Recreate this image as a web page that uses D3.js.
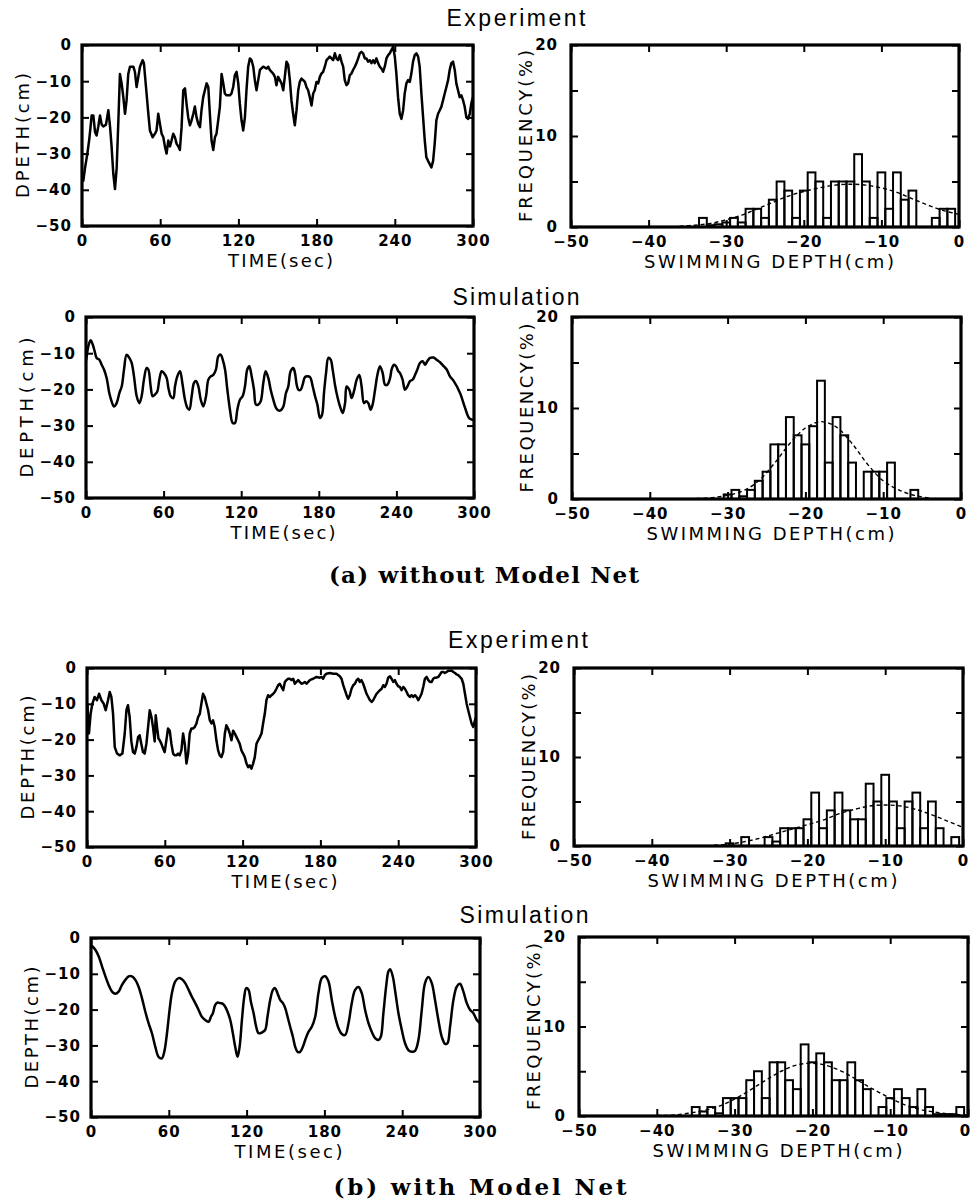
<!DOCTYPE html>
<html lang="en">
<head>
<meta charset="UTF-8">
<title>Swimming depth - experiment vs simulation</title>
<style>
  body { margin: 0; background: #fff; }
  svg { display: block; background: #fff; }
  .tick text { font-family: "DejaVu Sans", sans-serif; font-weight: bold; font-size: 15px; letter-spacing: 1px; fill: #000; }
  .tick line { stroke: #000; stroke-width: 2; }
  .lab { font-family: "DejaVu Sans", sans-serif; font-size: 18px; fill: #000; }
  .ttl { font-family: "Liberation Sans", Arial, sans-serif; font-size: 23px; fill: #000; }
  .cap { font-family: "DejaVu Serif", serif; font-weight: bold; font-size: 23px; fill: #000; }
</style>
</head>
<body>
<script src="https://cdnjs.cloudflare.com/ajax/libs/d3/7.8.5/d3.min.js"></script>
<script>

// ticks
let timeTicks = [0, 60, 120, 180, 240, 300];
let depthTicks = [0, -10, -20, -30, -40, -50];
let swimTicks = [-50, -40, -30, -20, -10, 0];
let freqTicks = [0, 5, 10, 15, 20];

// depth traces [time(sec), depth(cm)]
let expA = [
[0,-36],[1,-37.5],[2.3,-34],[4.1,-30],[5.6,-26],[6.6,-22.5],[7.4,-19.5],[8.7,-19.5],[10,-24],[11.2,-25],[12.5,-22.5],[13.8,-19.5],[15.1,-22],[16.4,-22.5],[18.4,-22],[20.2,-18],[21.5,-22.5],[22.7,-28],[24,-35.5],[25.3,-39.8],[26.6,-34],[27.9,-21],[29.1,-8],[30.4,-10.6],[31.7,-14.4],[33,-19],[34.2,-15.3],[35.5,-8],[36.8,-6],[39.4,-6],[40.6,-7.4],[41.9,-11.6],[43.2,-8.8],[44.5,-6],[46.5,-4.2],[47.5,-5],[49.1,-11.6],[50.9,-19],[52.1,-23.6],[54.2,-25.5],[56,-24.5],[57.2,-23.6],[58.5,-19],[59.8,-21.8],[61.1,-24.5],[62.4,-25.5],[63.6,-28],[64.9,-30],[66.2,-26.4],[67.5,-28],[68.7,-26.4],[70,-24.5],[71.3,-25.5],[72.6,-27.3],[73.9,-28],[75.1,-29],[76.4,-22.7],[77.7,-12.5],[79,-12],[80.2,-16.2],[81.5,-20],[82.8,-22.2],[84.1,-20.8],[85.4,-19],[86.6,-17],[87.9,-20],[89.2,-21.8],[90.5,-22.7],[91.7,-18],[93,-14.4],[94.3,-12.5],[95.6,-10.6],[96.9,-11.6],[98.1,-19],[99.4,-26.4],[100.7,-29],[102,-25.5],[103.2,-24.5],[104.5,-20.8],[105.8,-17],[107.1,-8],[108.4,-10.6],[109.6,-13.4],[110.9,-13.9],[113.5,-13.9],[114.7,-13.4],[116,-11.6],[117.3,-8.3],[118.6,-7.4],[119.9,-10.6],[121.1,-16.2],[122.4,-20.8],[123.7,-23.6],[125,-19.9],[126.2,-12.5],[127.5,-6],[128.8,-3.7],[130.1,-4.2],[131.4,-6],[132.6,-9.7],[133.9,-12.5],[135.2,-9.7],[136.5,-6.9],[139,-6],[141.6,-6.5],[142.9,-6],[144.1,-6.9],[145.4,-7.4],[146.7,-7.9],[148,-8.8],[149.2,-11.1],[150.5,-8.8],[151.8,-9.7],[153.1,-10.6],[154.4,-12.5],[155.6,-8.8],[156.9,-4.6],[158.2,-5.5],[159.5,-9.7],[160.7,-15.3],[162,-19],[163.3,-22.2],[164.6,-18],[165.9,-12.5],[167.1,-10.2],[168.4,-9.3],[169.7,-9.7],[171,-10.2],[172.2,-11.6],[173.5,-12.5],[174.8,-14.4],[176.1,-16.7],[177.4,-13.4],[178.6,-12.5],[179.9,-10.2],[181.2,-10.6],[182.5,-8.8],[183.7,-7.9],[185,-7.4],[186.3,-6],[187.6,-4.2],[188.9,-3.7],[190.1,-3.2],[192.7,-4.2],[194,-2.3],[195.2,-3.7],[196.5,-4.2],[197.8,-2.8],[199.1,-4.6],[200.4,-6],[201.6,-9.7],[202.9,-11.1],[204.2,-10.6],[205.5,-8.3],[206.7,-7.9],[208,-6.9],[209.3,-6],[210.6,-5],[211.9,-3.7],[213.1,-2.3],[214.4,-1.9],[215.7,-2.3],[217,-3.7],[218.2,-3.7],[219.5,-4.6],[220.8,-4.2],[222.1,-5],[223.4,-4.2],[224.6,-5],[225.9,-3.7],[227.2,-5],[228.5,-6],[229.7,-6.5],[231,-7.4],[232.3,-6],[233.6,-3.7],[234.9,-2.8],[236.1,-2.3],[237.4,-1.4],[238.7,-0.5],[240,-3.2],[241.2,-7.9],[242.5,-14.4],[243.8,-19],[245.1,-20.4],[246.4,-18],[247.6,-13.4],[248.9,-10.6],[250.2,-9.7],[251.5,-10.2],[252.7,-7.9],[254,-4.6],[255.3,-2.8],[256.6,-2.3],[257.9,-3.2],[259.1,-6],[260.4,-13.4],[261.7,-19.9],[263,-26.4],[264.2,-31],[265.5,-32],[266.8,-32.9],[268.1,-33.8],[269.4,-32],[270.6,-27.3],[271.9,-20.8],[273.2,-19],[274.5,-18],[275.7,-17.1],[277,-15.3],[278.3,-13.4],[279.6,-11.6],[280.9,-9.7],[282.1,-6.9],[283.4,-5],[284.7,-4.6],[286,-6.9],[287.2,-10.6],[288.5,-12.5],[289.8,-14.4],[291.1,-13.9],[292.4,-15.3],[293.6,-17],[294.9,-20],[296.2,-20.4],[297.5,-19],[298.8,-16],[300,-14.4]
];

let simA = [
[0,-12],[0.5,-10.9],[1.8,-8.1],[3.6,-6.4],[5.2,-7.6],[7,-9.9],[8.2,-11.3],[10.3,-11.8],[12.1,-13.2],[13.9,-14.5],[16,-16.9],[18,-21],[19.8,-23.3],[21.6,-24.7],[23.7,-23.8],[25.8,-21],[27.6,-19.2],[29.4,-14.5],[31.4,-10.4],[33.5,-11.3],[35.3,-12.7],[37.1,-16.4],[39.2,-21.9],[41.2,-23.8],[43,-21.9],[44.8,-17.3],[46.9,-14.1],[48.2,-14.5],[50,-19.2],[51.5,-21.9],[53.4,-21.4],[55.2,-20.5],[56.7,-17.3],[58.5,-15],[60.3,-15.5],[62.4,-16.9],[63.7,-19.6],[65.5,-21.9],[67.5,-22.4],[68.8,-19.2],[70.6,-16.4],[72.7,-15],[74.7,-18.7],[76.5,-22.8],[78.4,-25.1],[79.9,-25.6],[81.7,-21.9],[83.5,-18.2],[85,-17.7],[86.9,-19.2],[88.7,-22.8],[90.7,-24.7],[92.8,-21.9],[94.6,-17.3],[96.4,-16.4],[98.5,-16],[100.5,-14.5],[102.3,-10.9],[104.1,-10.4],[105.7,-11.8],[107.5,-14.5],[109.3,-20.1],[111.3,-25.6],[113.4,-29.3],[115.2,-29.3],[117,-25.6],[119.1,-22.8],[121.1,-21.9],[122.9,-19.2],[124.7,-14.5],[126.3,-13.6],[128.1,-16.4],[129.9,-20.1],[131.4,-24.2],[133.2,-24.2],[135.1,-23.3],[137.1,-18.2],[138.9,-15],[141,-16.9],[142.8,-20.1],[144.8,-22.8],[146.9,-25.1],[148.7,-25.8],[150.5,-25.8],[152.6,-24.7],[154.6,-21],[156.4,-19.2],[158.2,-15],[160.3,-14.1],[161.6,-15.5],[162.9,-18.7],[164.2,-20.1],[166,-20.1],[167.5,-18.7],[169.3,-16.6],[171.1,-16.4],[173.2,-16.6],[175.3,-19.2],[177.1,-21.9],[178.9,-24.2],[180.9,-27.9],[182.5,-27],[184,-21],[185.6,-15.5],[187.4,-11.3],[189.2,-11.8],[190.7,-14.5],[192.5,-18.7],[194.3,-21.9],[196.4,-24.7],[198.5,-26.5],[200.3,-23.8],[201.5,-19.2],[203.6,-20.1],[205.4,-22.4],[207.2,-20.5],[209.3,-17.3],[211.3,-16],[213.1,-19.2],[214.9,-23.8],[216.5,-23.3],[218.3,-23.8],[220.1,-25.6],[221.6,-24.2],[223.5,-20.1],[225.3,-16],[227.3,-13.6],[229.4,-15.5],[231.2,-18.7],[233,-18.7],[235.1,-16.9],[236.3,-14.5],[238.1,-13.2],[239.7,-13.6],[241.5,-15],[242.8,-15.5],[244.8,-17.3],[246.6,-20.1],[248.5,-19.2],[250.5,-17.7],[252.6,-17.3],[254.4,-16],[256.2,-14.5],[258.2,-12.7],[260.3,-12.2],[262.1,-13.2],[263.9,-12.2],[266,-11.3],[268.6,-11.2],[271.1,-11.8],[273.7,-12.5],[276.3,-13.5],[278.9,-14.5],[281.4,-16.4],[284,-17.5],[289.2,-21],[293,-25],[296.4,-28],[300,-28.5]
];

let expB = [
[0.3,-10],[1.5,-18.3],[2.8,-12.8],[4.1,-10],[5.9,-8.1],[7.7,-9],[9.3,-7.2],[11.1,-9],[12.9,-10],[14.4,-11.8],[16.2,-9],[17.5,-6.7],[18.8,-8.1],[20.1,-12.8],[21.4,-22.1],[23.2,-23.9],[25.2,-24.4],[27.3,-23.9],[29.1,-18.3],[30.4,-11.8],[31.6,-10.4],[32.9,-13.7],[34.2,-20.5],[35.5,-23.5],[36.8,-23.9],[38.1,-22.1],[39.4,-19.3],[40.6,-18.8],[41.9,-21.2],[43.2,-23.5],[44.5,-23.9],[45.8,-21.2],[47.1,-16.5],[48.4,-11.8],[49.7,-13.7],[50.9,-16.5],[52.2,-20.5],[53,-13.2],[54,-16.5],[55.1,-19.7],[56.1,-20.2],[57.4,-21.2],[58.7,-22.5],[59.9,-23.5],[61.2,-20.2],[62.5,-16.9],[63.8,-17.5],[65.1,-21.2],[66.4,-23.9],[67.7,-24.4],[68.9,-24.4],[70.2,-23.9],[71.5,-24.4],[72.8,-23],[74.1,-18.3],[75.4,-21.2],[76.7,-26.7],[78,-23.9],[79.2,-18.3],[80.5,-16.9],[81.8,-16.9],[83.1,-16.5],[84.4,-15.5],[85.7,-13.7],[87,-12.8],[88.2,-10],[89.5,-7.2],[90.8,-8.1],[92.1,-10],[93.4,-11.8],[94.7,-14.6],[96,-15.5],[97.2,-14.6],[98.5,-16.5],[99.8,-20.2],[101.1,-23],[102.4,-24.4],[103.7,-24.9],[105,-23.5],[106.3,-18.3],[107.5,-16],[108.8,-16.9],[110.1,-18.3],[111.4,-20.2],[112.7,-17.5],[114,-18.3],[115.3,-19.3],[116.5,-20.2],[117.8,-21.2],[119.1,-23],[120.4,-23.9],[121.7,-24.9],[123,-26.7],[124.3,-27.7],[125.5,-27.2],[126.8,-28.1],[128.1,-26.7],[129.4,-24.9],[130.7,-21.2],[132,-20.2],[133.3,-19.3],[134.6,-18.3],[135.8,-15.5],[137.1,-12.8],[138.4,-9],[139.7,-7.6],[141,-8.1],[142.3,-7.6],[143.6,-7.2],[144.8,-6.7],[146.1,-5.8],[147.4,-4.8],[148.7,-4.4],[150,-5.3],[151.3,-6.2],[152.6,-3.9],[153.8,-3.4],[155.1,-3],[156.4,-3],[157.7,-3.4],[159,-3],[160.3,-4.4],[161.6,-3.9],[162.9,-3.4],[164.1,-3.9],[165.4,-4.4],[166.7,-4.2],[168,-3.9],[169.3,-4.4],[170.6,-3.9],[171.9,-3.4],[173.1,-3.2],[174.4,-3],[177,-2.5],[179.6,-2.7],[180.9,-2.5],[182.1,-3],[183.4,-2],[184.7,-1.6],[187.3,-1.4],[189.9,-1.6],[192.4,-1.6],[195,-2.3],[196.3,-3],[197.6,-4.8],[198.9,-6.2],[200.2,-7.6],[201.4,-8.6],[202.7,-7.6],[204,-5.8],[205.3,-4.8],[206.6,-4.4],[207.9,-3.4],[209.2,-3],[210.4,-3.9],[211.7,-3.4],[213,-4.4],[214.3,-5.8],[215.6,-7.2],[216.9,-8.1],[218.2,-9],[219.5,-9.5],[220.7,-9],[222,-8.1],[223.3,-7.2],[224.6,-6.7],[225.9,-6.2],[227.2,-5.8],[228.5,-4.8],[229.7,-5.3],[231,-4.4],[232.3,-2.7],[233.6,-2.3],[234.9,-3],[236.2,-3.9],[237.5,-3.4],[238.7,-4.4],[240,-5.1],[241.3,-5.3],[242.6,-6.2],[243.9,-5.3],[245.2,-5.8],[246.5,-6.7],[247.7,-7.6],[249,-8.1],[250.3,-7.6],[251.6,-8.1],[252.9,-7.6],[254.2,-8.1],[255.5,-9],[256.8,-8.1],[258,-7.2],[259.3,-5.3],[260.6,-3],[261.9,-2.5],[263.2,-3.4],[264.5,-3.9],[265.8,-3.9],[267,-3],[268.3,-2.7],[269.6,-2.7],[270.9,-2.5],[272.2,-1.8],[273.5,-1.1],[274.8,-1.1],[276,-1.4],[277.3,-1.1],[278.6,-0.8],[279.9,-0.8],[281.2,-0.7],[282.5,-1.1],[283.8,-1.4],[285,-1.8],[286.3,-2],[287.6,-2.5],[288.9,-3],[290.2,-4.4],[291.5,-7.2],[292.8,-10],[294,-11.8],[295.3,-13.7],[296.6,-15.5],[297.9,-16.5],[299.2,-14.6],[300,-13.7]
];

let simB = [
[0,-2.5],[0.8,-2.3],[3.3,-3.3],[5.9,-5.1],[8.5,-7.9],[11.1,-10.7],[13.6,-13.1],[16.2,-15],[18.8,-15.6],[21.3,-15],[23.9,-13.1],[26.5,-11.7],[29,-10.7],[31.6,-10.7],[34.2,-11.7],[36.7,-13.6],[39.3,-16.8],[41.9,-20.6],[44.4,-23.8],[47,-26.6],[49.6,-30.4],[52.1,-33.2],[54.7,-33.6],[56.5,-31.8],[58.6,-26.6],[60.6,-20.1],[62.4,-15.4],[65,-12.1],[67.6,-11.2],[70.1,-11.5],[72.7,-12.6],[75.3,-14.5],[77.8,-16.4],[80.4,-18.2],[83,-20.1],[85.5,-22],[88.1,-22.9],[90.7,-23.4],[92.5,-22],[94,-21],[95.8,-18.7],[97.6,-18],[99.7,-18.2],[101.7,-18.4],[103.5,-19.2],[105.3,-20.6],[107.4,-22.9],[109.4,-26.6],[111.2,-30.4],[113,-33.2],[114.6,-30.4],[116.4,-22.9],[118.2,-16.4],[119.7,-14],[121.5,-14.5],[123.3,-17.8],[125.4,-21],[127.4,-24.8],[129.2,-26.6],[131.8,-26.4],[134.3,-25.7],[136.1,-22],[138.2,-17.3],[140.3,-14.5],[142,-14],[143.8,-15.4],[145.9,-17.3],[148,-18.2],[149.8,-19.6],[151.6,-22],[153.6,-24.8],[155.7,-27.6],[157.5,-30.4],[159.3,-31.8],[161.3,-31.8],[163.4,-30.4],[165.2,-28.5],[167.7,-26.2],[170.3,-24.8],[172.9,-22],[175.4,-15.4],[178,-11.2],[180.6,-10.7],[183.1,-12.1],[185.7,-17.3],[188.3,-22],[190.9,-25.2],[193.4,-26.8],[196,-27.1],[198.6,-23.8],[201.1,-18.2],[203.7,-14.5],[206.3,-13.7],[208.8,-15.4],[211.4,-20.1],[214,-23.8],[216.5,-26.2],[219.1,-28],[221.7,-28.5],[223.5,-27.6],[225.5,-21],[227.6,-13.6],[229.4,-9.3],[230.7,-8.7],[232.7,-10.7],[234.8,-15.4],[237.1,-21],[239.7,-25.7],[242.2,-29.4],[244.8,-31.3],[247.4,-31.8],[249.9,-31.5],[252.5,-28.5],[255.1,-20.1],[257.6,-12.6],[260.2,-10.9],[262.8,-12.6],[265.3,-17.3],[267.9,-22.9],[270.5,-27.6],[273.1,-29.6],[274.9,-29.4],[276.9,-24.8],[279.5,-17.3],[282.1,-13.6],[284.6,-12.8],[287.2,-15],[289.8,-18.2],[292.4,-20.1],[294.9,-21],[297.5,-22.9],[300,-23.8]
];

// histograms [bin centre (cm), frequency (%)], 1 cm bins
let histExpA = [[-33,1],[-32,0.2],[-31,0.3],[-30,0.5],[-29,1],[-28,0.5],[-27,2],[-26,2],[-25,1],[-24,3],[-23,5],[-22,4],[-21,1],[-20,4],[-19,6],[-18,5],[-17,1],[-16,5],[-15,5],[-14,5],[-13,8],[-12,5],[-11,1],[-10,6],[-9,2],[-8,6],[-7,3],[-6,4],[-3,1],[-2,2],[-1,2]];
let histSimA = [[-30,0.5],[-29,1],[-28,0.3],[-27,1],[-26,2],[-25,3],[-24,6],[-23,6],[-22,9],[-21,7],[-20,6],[-19,8],[-18,13],[-17,4],[-16,9],[-15,7],[-14,4],[-12,3],[-11,3],[-10,3],[-9,4],[-6,1]];
let histExpB = [[-30,0.3],[-28,1],[-25,1],[-24,0.5],[-23,2],[-22,2],[-21,2],[-20,3],[-19,6],[-18,2],[-17,4],[-16,6],[-15,4],[-14,3],[-13,3],[-12,7],[-11,5],[-10,8],[-9,5],[-8,2],[-7,5],[-6,6],[-5,2],[-4,5],[-3,2],[-1,1]];
let histSimB = [[-35,1],[-34,0.5],[-33,1],[-32,0.3],[-31,2],[-30,2],[-29,2],[-28,4],[-27,5],[-26,2],[-25,6],[-24,6],[-23,4],[-22,3],[-21,8],[-20,6],[-19,7],[-18,6],[-17,4],[-16,4],[-15,6],[-14,4],[-13,3],[-11,1],[-10,2],[-9,3],[-8,2],[-7,1],[-6,3],[-5,1],[-4,0.2],[-3,0.2],[-2,0.2],[-1,1]];

// dashed fitted curves [depth, frequency]
let fitExpA = [[-36,0.1],[-34,0.2],[-32,0.4],[-30,0.8],[-28,1.3],[-26,2.0],[-24,2.7],[-22,3.4],[-20,3.9],[-18,4.3],[-16,4.6],[-14,4.7],[-12,4.6],[-10,4.3],[-8,3.8],[-6,3.1],[-4,2.4],[-2,1.8],[0,1.4]];
let fitSimA = [[-34,0.05],[-32,0.15],[-30,0.4],[-28,0.9],[-26,2.0],[-24,3.9],[-22,6.1],[-20,7.8],[-18,8.5],[-16,7.9],[-14,6.1],[-12,3.8],[-10,2.0],[-8,1.0],[-6,0.4],[-4,0.1]];
let fitExpB = [[-32,0.1],[-30,0.2],[-28,0.5],[-26,0.9],[-24,1.4],[-22,1.9],[-20,2.4],[-18,2.9],[-16,3.6],[-14,4.1],[-12,4.5],[-10,4.6],[-8,4.5],[-6,4.1],[-4,3.5],[-2,2.8],[0,2.1]];
let fitSimB = [[-40,0.05],[-38,0.1],[-36,0.3],[-34,0.6],[-32,1.1],[-30,1.9],[-28,2.9],[-26,4.0],[-24,5.0],[-22,5.7],[-20,5.9],[-18,5.6],[-16,4.9],[-14,3.9],[-12,2.9],[-10,2.0],[-8,1.2],[-6,0.7],[-4,0.4],[-2,0.2],[0,0.1]];

let W = 972, H = 1204;
let svg = d3.select("body").append("svg").attr("width", W).attr("height", H);

// plot boxes [left, top, right, bottom]
let panels = [
  {kind: "ts",   data: expA, smooth: false, box: [82, 45, 473, 226],  ylab: "DPETH(cm)", ylen: 125, xlen: 105},
  {kind: "hist", bars: histExpA, fit: fitExpA, box: [571, 45, 959, 227], ylen: 172, xlen: 250},
  {kind: "ts",   data: simA, smooth: true,  box: [86, 317, 474, 498], ylab: "DEPTH(cm)", ylen: 140, xlen: 105},
  {kind: "hist", bars: histSimA, fit: fitSimA, box: [572, 317, 961, 499], ylen: 169, xlen: 248},
  {kind: "ts",   data: expB, smooth: false, box: [87, 668, 476, 847], ylab: "DEPTH(cm)", ylen: 124, xlen: 106},
  {kind: "hist", bars: histExpB, fit: fitExpB, box: [574, 668, 963, 846], ylen: 166, xlen: 250},
  {kind: "ts",   data: simB, smooth: true,  box: [91, 938, 480, 1117], ylab: "DEPTH(cm)", ylen: 122, xlen: 108},
  {kind: "hist", bars: histSimB, fit: fitSimB, box: [579, 937, 968, 1116], ylen: 167, xlen: 250}
];

let fmt = d3.format("d");

function styleAxis(g) {
  g.select(".domain").remove();
  g.selectAll("text").attr("font-size", null).attr("font-family", null);
}

panels.forEach(function(p, i) {
  let [x0, y0, x1, y1] = p.box;
  let g = svg.append("g");
  let x, y, xt, yt, yfmt, ypad;

  if (p.kind == "ts") {
    x = d3.scaleLinear().domain([0, 300]).range([x0, x1]);
    y = d3.scaleLinear().domain([-50, 0]).range([y1, y0]);
    xt = timeTicks; yt = depthTicks; yfmt = fmt; ypad = 10;
  } else {
    x = d3.scaleLinear().domain([-50, 0]).range([x0, x1]);
    y = d3.scaleLinear().domain([0, 20]).range([y1, y0]);
    xt = swimTicks; yt = freqTicks; yfmt = d => d % 10 == 0 ? fmt(d) : ""; ypad = 13;
  }

  g.append("clipPath").attr("id", "clip" + i)
    .append("rect").attr("x", x0).attr("y", y0).attr("width", x1 - x0).attr("height", y1 - y0);

  // axes, inward ticks on all sides
  g.append("g").attr("transform", `translate(0,${y1})`)
    .call(d3.axisBottom(x).tickValues(xt).tickSize(-7).tickPadding(9).tickFormat(fmt)).call(styleAxis)
    .selectAll(".tick text")
    .attr("dx", d => x(d) + 7 > W ? (W - 2 - (x(d) + 5)) : 0);
  g.append("g").attr("transform", `translate(0,${y0})`)
    .call(d3.axisTop(x).tickValues(xt).tickSize(-7).tickFormat("")).call(styleAxis);
  g.append("g").attr("transform", `translate(${x0},0)`)
    .call(d3.axisLeft(y).tickValues(yt).tickSize(-7).tickPadding(ypad).tickFormat(yfmt)).call(styleAxis);
  g.append("g").attr("transform", `translate(${x1},0)`)
    .call(d3.axisRight(y).tickValues(yt).tickSize(-7).tickFormat("")).call(styleAxis);

  let plot = g.append("g").attr("clip-path", `url(#clip${i})`);

  if (p.kind == "ts") {
    let line = d3.line()
      .x(d => x(d[0]))
      .y(d => y(d[1]))
      .curve(p.smooth ? d3.curveCatmullRom.alpha(0.5) : d3.curveLinear);
    plot.append("path")
      .attr("d", line(p.data))
      .attr("fill", "none")
      .attr("stroke", "#000")
      .attr("stroke-width", 2.5)
      .attr("stroke-linejoin", "round");
  } else {
    plot.selectAll("rect.bar").data(p.bars).enter().append("rect")
      .attr("class", "bar")
      .attr("x", d => x(d[0] - 0.5))
      .attr("width", d => x(d[0] + 0.5) - x(d[0] - 0.5))
      .attr("y", d => y(d[1]))
      .attr("height", d => y(0) - y(d[1]))
      .attr("fill", "none")
      .attr("stroke", "#000")
      .attr("stroke-width", 2);
    let fitLine = d3.line().x(d => x(d[0])).y(d => y(d[1])).curve(d3.curveCatmullRom.alpha(0.5));
    plot.append("path")
      .attr("d", fitLine(p.fit))
      .attr("fill", "none")
      .attr("stroke", "#000")
      .attr("stroke-width", 1.4)
      .attr("stroke-dasharray", "4,3");
  }

  // frame
  g.append("rect")
    .attr("x", x0).attr("y", y0).attr("width", x1 - x0).attr("height", y1 - y0)
    .attr("fill", "none").attr("stroke", "#000").attr("stroke-width", 3.2);

  // axis titles
  let cx = (x0 + x1) / 2 + (p.kind == "ts" ? 3 : 4);
  g.append("text").attr("class", "lab")
    .attr("x", cx).attr("y", y1 + 41)
    .attr("text-anchor", "middle")
    .attr("textLength", p.xlen).attr("lengthAdjust", "spacing")
    .text(p.kind == "ts" ? "TIME(sec)" : "SWIMMING DEPTH(cm)");

  let lx = p.kind == "ts" ? x0 - 53 : x0 - 39;
  g.append("text").attr("class", "lab")
    .attr("transform", `translate(${lx},${(y0 + y1) / 2}) rotate(-90)`)
    .attr("text-anchor", "middle")
    .attr("textLength", p.ylen).attr("lengthAdjust", "spacing")
    .text(p.kind == "ts" ? p.ylab : "FREQUENCY(%)");
});

// section titles
let titles = [
  {t: "Experiment", x: 516, y: 26, len: 139},
  {t: "Simulation", x: 516, y: 305, len: 127},
  {t: "Experiment", x: 518, y: 648, len: 140},
  {t: "Simulation", x: 524, y: 923, len: 129}
];
titles.forEach(d => {
  svg.append("text").attr("class", "ttl")
    .attr("x", d.x).attr("y", d.y).attr("text-anchor", "middle")
    .attr("textLength", d.len).attr("lengthAdjust", "spacing")
    .text(d.t);
});

let captions = [
  {t: "(a) without Model Net", x: 484, y: 583, len: 310},
  {t: "(b) with Model Net", x: 480, y: 1195, len: 293}
];
captions.forEach(d => {
  svg.append("text").attr("class", "cap")
    .attr("x", d.x).attr("y", d.y).attr("text-anchor", "middle")
    .attr("textLength", d.len).attr("lengthAdjust", "spacing")
    .text(d.t);
});

</script>
</body>
</html>
